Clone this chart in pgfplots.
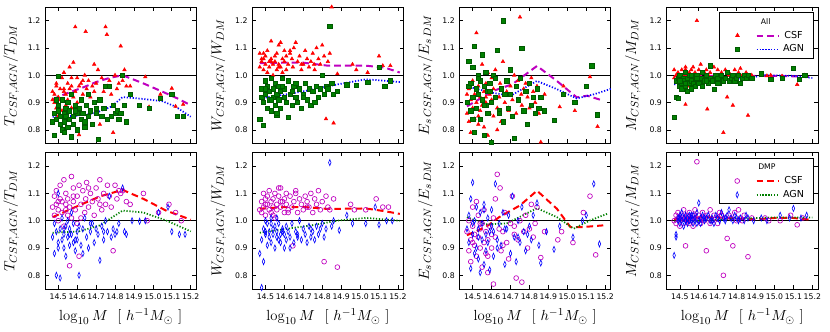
\documentclass[border=0pt]{standalone}
\usepackage{pgfplots}
\pgfplotsset{compat=1.18}
\usepackage{pgfplotstable}
\usepgfplotslibrary{groupplots}
\usepackage{fontspec}
\newfontfamily\sfm{DejaVu Sans}

\definecolor{mcol}{rgb}{0.75,0,0.75}
\definecolor{gcol}{rgb}{0,0.5,0}

% columns: x T W E M  (top row: All, red triangles = CSF, green squares = AGN)
\pgfplotstableread{
x T W E M
14.47 0.94 1.03 0.86 0.99
14.48 0.90 1.05 0.83 1.00
14.48 0.93 1.06 0.95 0.98
14.49 0.88 1.02 0.91 1.01
14.49 0.96 1.08 0.79 0.99
14.50 0.92 1.04 0.98 1.00
14.50 0.85 1.07 0.88 0.97
14.51 0.95 1.01 0.93 1.02
14.51 0.91 1.09 0.84 0.98
14.52 0.99 1.05 1.155 1.00
14.52 0.87 1.03 0.90 0.99
14.53 0.94 1.125 0.96 0.893
14.53 1.01 1.06 0.82 1.03
14.54 0.89 1.04 0.92 1.00
14.54 0.93 1.00 0.87 0.98
14.55 0.97 1.07 1.04 1.01
14.55 0.91 1.05 0.89 0.96
14.56 1.03 1.02 0.94 1.02
14.56 0.95 1.08 0.81 0.99
14.57 0.88 1.04 0.97 1.00
14.57 0.96 1.11 0.90 1.03
14.58 1.047 1.12 0.78 0.98
14.58 0.92 1.03 1.01 1.01
14.59 1.177 1.06 0.93 1.20
14.59 0.94 1.01 0.86 0.97
14.60 0.99 1.09 0.99 1.02
14.60 0.90 1.05 0.91 1.00
14.61 0.96 1.07 0.85 1.04
14.61 0.782 1.02 0.95 0.99
14.62 0.97 1.04 1.02 1.01
14.63 0.93 1.08 0.88 0.98
14.64 1.00 1.06 0.92 1.02
14.645 1.16 1.03 0.97 0.876
14.65 0.95 1.10 0.83 1.00
14.66 0.98 1.12 1.05 1.01
14.67 0.92 1.05 0.90 0.99
14.68 0.96 1.07 0.94 1.03
14.69 1.04 1.02 0.87 1.00
14.70 0.97 1.04 0.96 1.02
14.71 1.02 1.09 0.91 0.99
14.72 0.82 1.06 1.00 1.01
14.73 0.99 1.03 0.86 0.79
14.74 0.94 1.05 0.98 1.02
14.75 1.177 1.08 1.213 0.92
14.757 1.149 1.04 0.93 1.00
14.76 0.96 1.02 0.89 1.01
14.77 0.98 1.10 0.95 0.99
14.78 0.93 1.06 0.97 0.89
14.79 0.79 1.04 0.92 1.02
14.80 1.00 1.11 0.88 1.00
14.81 0.95 1.07 0.99 1.01
14.82 0.97 0.84 0.94 1.025
14.83 1.107 1.05 0.90 1.00
14.84 0.98 1.08 0.96 0.99
14.85 1.02 1.25 0.86 1.01
14.86 0.96 0.825 0.755 0.853
14.49 0.97 1.06 0.97 1.00
14.53 0.95 1.05 0.85 1.02
14.57 0.99 1.03 0.92 0.99
14.63 0.98 1.09 0.80 1.01
14.69 0.94 1.04 0.88 0.98
14.47 0.91 1.08 0.93 1.02
14.88 0.96 1.005 0.93 1.00
14.96 0.994 1.04 0.884 0.998
14.98 0.884 1.02 0.96 1.00
15.04 0.93 1.01 0.87 0.997
15.10 0.952 1.07 0.955 1.025
15.12 0.886 1.035 0.994 0.966
15.16 0.893 1.035 0.812 1.00
}\topcsf

\pgfplotstableread{
x T W E M
14.47 0.83 0.84 0.90 0.847
14.48 0.78 0.92 0.96 0.92
14.48 0.86 0.95 1.05 0.98
14.49 0.91 0.817 0.87 0.915
14.49 0.84 0.90 0.97 0.99
14.50 0.995 0.98 1.03 0.96
14.50 0.87 0.93 0.92 1.00
14.51 0.82 0.88 1.107 0.97
14.51 0.85 0.96 0.79 0.95
14.52 0.91 0.91 0.95 0.99
14.52 0.80 0.94 0.88 0.98
14.53 0.86 0.99 1.00 1.01
14.53 0.83 0.87 0.93 0.96
14.54 0.88 0.95 0.84 0.94
14.54 0.85 0.92 0.98 0.99
14.55 0.81 0.89 1.075 0.97
14.55 0.90 0.97 0.91 1.00
14.56 0.84 0.93 0.78 0.95
14.56 0.87 0.855 0.96 0.98
14.57 0.775 0.91 0.89 1.00
14.57 0.93 0.96 1.01 0.97
14.58 0.85 0.94 0.86 0.99
14.58 0.82 0.88 0.94 0.96
14.59 0.89 0.99 0.97 1.00
14.60 0.86 0.92 0.755 0.98
14.60 0.80 0.95 0.90 0.97
14.61 0.88 0.90 1.00 0.99
14.62 0.84 0.845 0.92 1.01
14.62 0.91 0.98 0.99 0.96
14.63 0.86 0.93 1.092 0.98
14.64 0.81 0.89 0.87 1.00
14.65 0.89 0.96 0.95 0.97
14.66 0.85 0.92 1.20 0.99
14.66 0.93 0.97 0.83 1.035
14.67 0.87 0.90 0.93 0.98
14.68 0.82 0.95 0.98 0.948
14.69 0.90 0.88 0.88 1.00
14.70 0.86 0.93 1.02 0.99
14.71 0.766 0.97 0.85 0.97
14.72 0.91 0.91 0.77 1.00
14.73 0.85 0.95 0.96 0.98
14.74 0.88 0.89 0.91 0.99
14.75 0.96 0.94 0.99 1.01
14.76 0.84 0.90 1.10 0.98
14.77 0.96 0.96 0.87 0.99
14.78 0.85 0.92 0.94 1.00
14.79 0.89 0.95 0.82 0.98
14.80 0.86 1.00 0.97 0.99
14.81 0.87 0.93 0.89 1.00
14.82 0.84 0.96 0.92 0.97
14.83 0.86 0.95 0.86 0.99
14.84 1.00 1.18 0.95 1.00
14.85 0.89 0.97 0.88 0.99
14.86 0.83 0.93 0.92 1.00
14.50 0.89 0.95 0.84 0.98
14.53 0.79 0.91 0.99 0.97
14.56 0.84 0.86 0.89 1.00
14.59 0.87 0.96 0.94 0.99
14.64 0.83 0.94 0.86 0.98
14.70 0.88 0.92 0.93 0.97
14.88 0.93 0.94 0.87 0.99
14.93 0.891 0.965 0.834 1.005
14.98 0.88 0.963 0.93 0.985
15.04 0.915 0.975 0.90 0.99
15.10 0.93 1.03 0.96 1.025
15.13 0.85 0.96 1.035 0.985
15.16 0.85 0.98 0.855 1.00
}\topagn

% bottom row: DMP, magenta circles = CSF, blue diamonds = AGN
\pgfplotstableread{
x T W E M
14.47 1.05 1.04 0.96 1.00
14.48 1.09 1.07 0.89 1.02
14.48 1.02 1.03 1.00 0.99
14.49 1.06 1.10 0.93 1.01
14.49 1.11 1.05 0.85 1.03
14.50 1.04 1.08 0.98 1.00
14.50 1.00 1.02 1.05 0.98
14.51 1.08 1.06 0.91 1.02
14.51 1.13 1.09 0.95 1.01
14.52 1.03 1.04 1.07 0.99
14.52 1.07 1.11 0.87 1.04
14.53 1.15 1.03 0.94 0.908
14.53 0.98 1.07 1.02 1.01
14.54 1.06 1.05 0.90 1.00
14.54 1.10 1.08 0.97 1.02
14.55 1.02 1.01 0.83 0.99
14.55 1.08 1.10 0.99 1.03
14.56 0.835 1.06 0.92 1.00
14.56 1.05 1.04 1.04 1.01
14.57 1.162 1.09 0.88 1.02
14.57 1.01 1.12 0.96 0.98
14.58 1.07 1.12 0.93 1.01
14.58 1.12 1.05 0.81 1.04
14.59 1.04 1.07 0.98 1.216
14.60 1.09 1.03 0.90 1.00
14.60 0.99 1.08 0.95 1.02
14.61 0.87 1.06 0.768 1.01
14.61 1.13 1.10 1.01 0.99
14.62 1.06 1.04 0.94 1.03
14.63 1.11 1.09 1.17 1.00
14.64 1.03 1.05 0.97 0.89
14.645 1.08 0.908 1.12 1.02
14.65 1.14 1.07 0.89 1.01
14.66 1.05 1.11 0.96 1.04
14.67 1.10 1.03 1.03 1.00
14.68 1.07 1.08 0.92 1.02
14.69 1.02 1.06 0.86 1.01
14.70 1.12 1.04 0.99 0.99
14.71 1.08 1.09 1.09 1.03
14.72 1.15 1.07 0.95 1.02
14.73 1.04 1.05 0.79 0.80
14.74 1.10 1.10 0.93 1.01
14.75 1.06 1.03 1.00 0.935
14.76 1.13 1.08 0.775 1.02
14.77 1.09 1.06 0.96 1.01
14.78 1.05 1.11 1.02 0.908
14.79 0.89 1.04 0.90 1.03
14.80 1.13 1.07 0.97 1.00
14.81 1.08 0.85 1.06 1.04
14.82 1.11 1.09 0.94 1.01
14.83 1.10 1.05 0.99 1.00
14.84 1.11 1.04 1.05 1.02
14.86 1.07 1.08 0.865 0.868
14.88 1.06 0.83 0.96 1.01
14.50 1.07 1.06 0.92 1.01
14.54 1.04 1.02 0.99 1.00
14.58 1.09 1.07 0.87 1.02
14.62 1.01 1.03 1.08 1.01
14.66 1.12 1.10 0.91 0.99
14.72 1.06 1.05 0.98 1.02
14.95 1.10 1.06 0.93 1.01
14.97 1.00 1.04 0.96 1.00
15.03 1.03 1.04 0.92 1.00
15.085 1.06 1.08 1.03 1.02
15.12 1.03 1.05 1.09 0.985
15.15 1.00 1.05 0.875 1.01
}\botcsf

\pgfplotstableread{
x T W E M
14.47 0.94 0.88 0.97 0.873
14.48 0.88 0.93 1.02 0.95
14.48 0.99 0.755 0.92 0.94
14.49 0.80 0.85 1.08 1.00
14.49 0.96 0.97 0.825 1.01
14.50 1.10 1.00 1.14 1.02
14.50 0.92 0.95 0.95 0.99
14.51 0.79 0.99 0.88 1.00
14.51 0.97 0.91 1.00 1.03
14.52 0.93 0.96 0.90 1.01
14.52 1.01 0.94 1.05 0.98
14.53 0.90 1.01 0.86 1.00
14.53 0.95 0.92 0.97 1.02
14.54 0.98 0.97 0.81 1.01
14.54 0.87 0.95 1.03 0.99
14.55 0.94 0.90 0.93 1.00
14.55 1.00 0.98 0.99 1.02
14.56 0.91 0.94 0.84 1.01
14.56 0.97 0.96 1.06 1.00
14.57 0.95 0.93 0.95 0.99
14.57 1.03 0.99 0.89 1.02
14.58 0.92 0.95 0.92 1.01
14.58 0.99 0.92 1.01 1.00
14.59 0.89 0.97 0.82 1.03
14.60 0.96 0.90 0.98 1.065
14.60 0.93 0.95 1.04 1.00
14.61 0.80 0.93 0.96 1.01
14.61 0.98 0.98 0.87 0.99
14.62 0.91 0.96 1.135 1.02
14.63 0.97 0.94 0.93 1.00
14.64 1.01 0.99 0.99 1.01
14.65 0.94 0.92 0.91 1.02
14.66 0.90 0.96 1.03 1.00
14.67 0.96 0.94 0.84 1.01
14.68 0.99 1.00 0.97 0.99
14.69 0.92 0.93 1.02 1.02
14.70 0.97 0.97 0.88 1.01
14.71 0.95 0.95 1.09 1.00
14.72 0.855 0.92 0.94 1.03
14.73 0.98 0.98 0.85 1.01
14.74 0.93 0.94 1.00 1.00
14.75 1.00 0.96 0.92 1.02
14.76 0.96 0.93 1.05 1.04
14.77 1.09 0.98 0.96 1.01
14.78 0.94 0.95 0.89 1.00
14.79 0.97 0.97 0.95 1.02
14.80 0.95 0.99 0.98 1.01
14.81 0.96 0.94 0.93 1.00
14.82 0.99 0.97 1.02 1.01
14.84 1.12 1.213 1.065 1.00
14.85 0.96 0.98 0.91 1.02
14.86 0.95 1.00 0.845 1.01
14.89 1.00 0.965 0.96 1.00
14.50 0.90 0.96 0.99 1.01
14.53 0.97 0.99 0.94 1.00
14.56 0.95 1.01 1.04 1.02
14.59 0.93 0.96 0.96 0.99
14.63 0.88 0.90 0.90 1.01
14.67 0.99 0.95 0.97 1.00
14.74 0.96 0.97 0.94 1.01
14.93 0.998 1.02 0.895 1.01
14.96 1.00 0.99 0.98 1.00
15.03 1.03 0.99 0.94 1.02
15.08 1.05 1.05 1.00 1.01
15.10 0.96 0.985 1.02 1.045
15.14 0.95 1.00 1.135 1.01
15.17 0.95 1.00 0.915 1.02
}\botagn

\pgfplotsset{
  csfA/.style={only marks, mark=triangle*, mark size=1.5pt, mark options={draw=red, fill=red}},
  agnA/.style={only marks, mark=square*, mark size=1.6pt, mark options={draw=gcol!70!black, fill=gcol}},
  csfB/.style={only marks, mark=o, mark size=1.8pt, mark options={draw=mcol, line width=0.5pt}},
  agnB/.style={only marks, mark=diamond, mark size=2.3pt, mark options={draw=blue, line width=0.45pt, xscale=0.55}},
  lcsfA/.style={mcol, line width=1.5pt, dash pattern=on 5pt off 3pt},
  lagnA/.style={blue, line width=1.3pt, dash pattern=on 0.9pt off 1.3pt},
  lcsfB/.style={red, line width=1.5pt, dash pattern=on 5pt off 3pt},
  lagnB/.style={gcol, line width=1.3pt, dash pattern=on 0.9pt off 1.3pt},
  unity/.style={black, line width=0.8pt, forget plot},
  legbox/.style={legend columns=2,
    legend style={at={(rel axis cs:0.972,0.961)}, anchor=north east, draw=black, line width=0.6pt,
      fill=none, inner xsep=5pt, inner ysep=1.5pt, font=\sfm\fontsize{7.2}{8.6}\selectfont,
      nodes={text height=5.3pt, text depth=1.5pt, inner ysep=1.8pt},
      /tikz/every even column/.append style={column sep=8pt}}},
}

\begin{document}
\begin{tikzpicture}
\begin{groupplot}[
  group style={group size=4 by 2, horizontal sep=41.85pt, vertical sep=6.75pt,
    x descriptions at=edge bottom},
  scale only axis, width=113.6pt, height=102.4pt,
  xmin=14.43, xmax=15.23, ymin=0.75, ymax=1.25,
  xtick={14.5,14.6,14.7,14.8,14.9,15.0,15.1,15.2},
  ytick={0.8,0.9,1.0,1.1,1.2},
  /pgf/number format/assume math mode=true,
  xticklabel style={/pgf/number format/.cd, fixed, fixed zerofill, precision=1},
  yticklabel style={/pgf/number format/.cd, fixed, fixed zerofill, precision=1},
  tick label style={font=\sfm\fontsize{5.8}{7}\selectfont},
  label style={font=\fontsize{11}{13}\selectfont},
  axis line style={line width=0.6pt},
  tick style={line width=0.5pt, black},
  major tick length=3pt,
  tick align=inside,
  xlabel={$\log_{10}M\ \ [\ h^{-1}M_{\odot}\ ]$},
]
% ---- top row ----
\nextgroupplot[ylabel={$T_{CSF,AGN}/T_{DM}$}]
\addplot[unity] coordinates {(14.3,1) (15.4,1)};
\addplot[csfA, forget plot] table[x=x, y=T] {\topcsf};
\addplot[agnA, forget plot] table[x=x, y=T] {\topagn};
\addplot[lcsfA, forget plot] coordinates {(14.47,0.912) (14.55,0.935) (14.63,0.955) (14.70,0.975) (14.77,0.99) (14.84,1.0) (14.95,0.97) (15.05,0.94) (15.13,0.915) (15.2,0.89)};
\addplot[lagnA, forget plot] coordinates {(14.47,0.848) (14.6,0.852) (14.7,0.862) (14.78,0.885) (14.84,0.92) (14.95,0.913) (15.05,0.905) (15.12,0.885) (15.2,0.848)};

\nextgroupplot[ylabel={$W_{CSF,AGN}/W_{DM}$}]
\addplot[unity] coordinates {(14.3,1) (15.4,1)};
\addplot[csfA, forget plot] table[x=x, y=W] {\topcsf};
\addplot[agnA, forget plot] table[x=x, y=W] {\topagn};
\addplot[lcsfA, forget plot] coordinates {(14.47,1.044) (14.6,1.046) (14.7,1.046) (14.83,1.035) (15.03,1.035) (15.13,1.028) (15.21,1.01)};
\addplot[lagnA, forget plot] coordinates {(14.47,0.915) (14.62,0.931) (14.76,0.949) (14.885,0.967) (15.03,0.985) (15.13,0.98) (15.21,0.975)};

\nextgroupplot[ylabel={$E_{s\,CSF,AGN}/E_{s\,DM}$}]
\addplot[unity] coordinates {(14.3,1) (15.4,1)};
\addplot[csfA, forget plot] table[x=x, y=E] {\topcsf};
\addplot[agnA, forget plot] table[x=x, y=E] {\topagn};
\addplot[lcsfA, forget plot] coordinates {(14.47,0.886) (14.61,0.943) (14.71,0.967) (14.84,1.034) (14.945,0.979) (15.05,0.919) (15.105,0.925) (15.19,0.907)};
\addplot[lagnA, forget plot] coordinates {(14.47,0.959) (14.61,0.935) (14.70,0.925) (14.84,0.979) (14.945,0.949) (15.05,0.915) (15.14,0.93) (15.23,0.95)};

\nextgroupplot[ylabel={$M_{CSF,AGN}/M_{DM}$}, legbox]
\addplot[unity] coordinates {(14.3,1) (15.4,1)};
\addplot[csfA, forget plot] table[x=x, y=M] {\topcsf};
\addplot[agnA, forget plot] table[x=x, y=M] {\topagn};
\addplot[lcsfA, forget plot] coordinates {(14.47,0.997) (14.6,0.998) (14.8,0.998) (15.0,0.998) (15.2,0.994)};
\addplot[lagnA, forget plot] coordinates {(14.47,0.967) (14.59,0.974) (14.73,0.985) (14.86,0.99) (14.95,1.0) (15.1,0.998) (15.2,0.99)};
\addlegendimage{empty legend}\addlegendentry{\rlap{\hspace{14pt}\fontsize{5.8}{7}\selectfont All}}
\addlegendimage{empty legend}\addlegendentry{\mbox{}}
\addlegendimage{csfA}\addlegendentry{\mbox{}}
\addlegendimage{lcsfA}\addlegendentry{CSF}
\addlegendimage{agnA}\addlegendentry{\mbox{}}
\addlegendimage{lagnA}\addlegendentry{AGN}

% ---- bottom row ----
\nextgroupplot[ylabel={$T_{CSF,AGN}/T_{DM}$}]
\addplot[unity] coordinates {(14.3,1) (15.4,1)};
\addplot[csfB, forget plot] table[x=x, y=T] {\botcsf};
\addplot[agnB, forget plot] table[x=x, y=T] {\botagn};
\addplot[lcsfB, forget plot] coordinates {(14.47,1.013) (14.61,1.056) (14.72,1.089) (14.84,1.113) (14.95,1.08) (15.07,1.037) (15.2,1.004)};
\addplot[lagnB, forget plot] coordinates {(14.47,0.956) (14.61,0.961) (14.72,0.983) (14.84,1.037) (14.95,1.03) (15.07,1.001) (15.2,0.961)};

\nextgroupplot[ylabel={$W_{CSF,AGN}/W_{DM}$}]
\addplot[unity] coordinates {(14.3,1) (15.4,1)};
\addplot[csfB, forget plot] table[x=x, y=W] {\botcsf};
\addplot[agnB, forget plot] table[x=x, y=W] {\botagn};
\addplot[lcsfB, forget plot] coordinates {(14.47,1.044) (14.6,1.05) (14.71,1.05) (14.83,1.043) (15.03,1.045) (15.13,1.035) (15.21,1.025)};
\addplot[lagnB, forget plot] coordinates {(14.47,0.956) (14.62,0.971) (14.76,0.985) (14.885,1.001) (15.03,1.01) (15.13,1.005) (15.21,1.0)};

\nextgroupplot[ylabel={$E_{s\,CSF,AGN}/E_{s\,DM}$}]
\addplot[unity] coordinates {(14.3,1) (15.4,1)};
\addplot[csfB, forget plot] table[x=x, y=E] {\botcsf};
\addplot[agnB, forget plot] table[x=x, y=E] {\botagn};
\addplot[lcsfB, forget plot] coordinates {(14.47,0.947) (14.57,0.977) (14.64,1.013) (14.75,1.056) (14.84,1.11) (14.945,1.044) (15.016,0.977) (15.087,0.977) (15.19,0.983)};
\addplot[lagnB, forget plot] coordinates {(14.47,1.013) (14.57,0.987) (14.68,0.99) (14.84,1.046) (14.945,1.013) (15.034,0.971) (15.12,1.001) (15.21,1.025)};

\nextgroupplot[ylabel={$M_{CSF,AGN}/M_{DM}$}, legbox]
\addplot[unity] coordinates {(14.3,1) (15.4,1)};
\addplot[csfB, forget plot] table[x=x, y=M] {\botcsf};
\addplot[agnB, forget plot] table[x=x, y=M] {\botagn};
\addplot[lcsfB, forget plot] coordinates {(14.47,1.005) (14.6,1.012) (14.7,1.012) (14.8,1.008) (14.9,1.005) (15.0,1.01) (15.1,1.01) (15.2,1.003)};
\addplot[lagnB, forget plot] coordinates {(14.47,0.998) (14.6,1.0) (14.7,1.003) (14.8,1.008) (14.9,1.01) (15.0,1.012) (15.1,1.012) (15.2,1.012)};
\addlegendimage{empty legend}\addlegendentry{\rlap{\hspace{12pt}\fontsize{5.8}{7}\selectfont DMP}}
\addlegendimage{empty legend}\addlegendentry{\mbox{}}
\addlegendimage{csfB}\addlegendentry{\mbox{}}
\addlegendimage{lcsfB}\addlegendentry{CSF}
\addlegendimage{agnB}\addlegendentry{\mbox{}}
\addlegendimage{lagnB}\addlegendentry{AGN}
\end{groupplot}
\pgfresetboundingbox
\path ([shift={(-33.75pt,5.25pt)}]group c1r1.north west) rectangle ([shift={(9pt,-32.25pt)}]group c4r2.south east);
\end{tikzpicture}
\end{document}
